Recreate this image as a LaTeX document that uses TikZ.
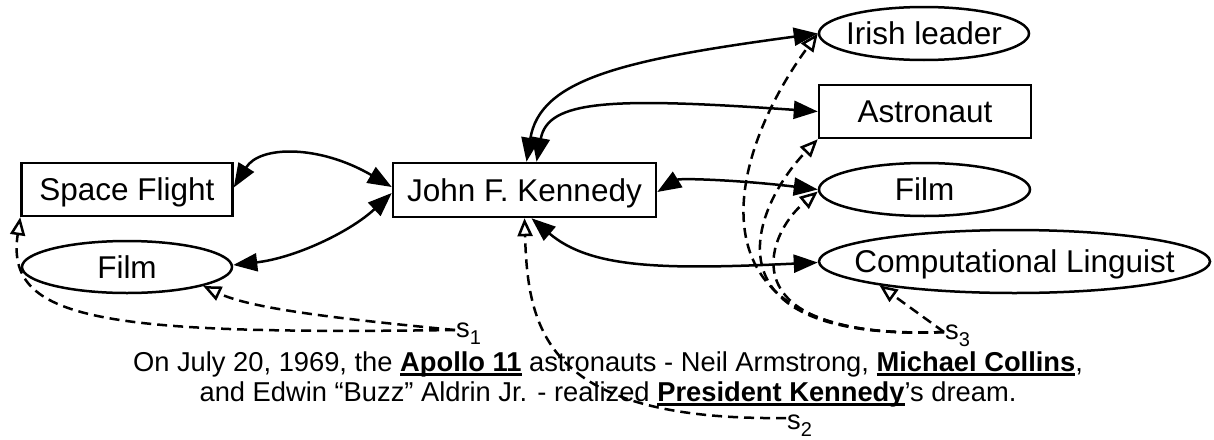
\documentclass[tikz,border=0pt]{standalone}
\usepackage{fontspec}
\setmainfont{Liberation Sans}
\usetikzlibrary{arrows.meta,shapes.geometric}
\newcommand\nodefont{\fontsize{31.5}{36}\selectfont}
\newcommand\txtfont{\fontsize{27.3}{31.5}\selectfont}
\newcommand\myul[1]{\setbox0\hbox{\bfseries #1}\rlap{\rule[-4.5pt]{\wd0}{3pt}}\box0\relax}
\newcommand\mysub[1]{\raisebox{-7pt}{\fontsize{20}{20}\selectfont #1}}
\tikzset{
  boxn/.style={draw, line width=2.5pt, rectangle, inner sep=0pt, font=\nodefont, text height=22.6pt, text depth=0pt},
  elln/.style={draw, line width=2.5pt, ellipse, inner ysep=0pt, inner xsep=-25pt, font=\nodefont, text height=22.6pt, text depth=0pt},
  txt/.style={font=\txtfont, inner sep=0pt},
  slab/.style={font=\txtfont, inner sep=1pt, text height=14pt, text depth=0pt},
  biarrow/.style={line width=2.5pt, {Triangle[length=24pt,width=18pt]}-{Triangle[length=24pt,width=18pt]}},
  ann/.style={line width=2.5pt, dash pattern=on 10pt off 6pt, -{Triangle[open,length=18pt,width=15pt]}}
}
\begin{document}
\begin{tikzpicture}[x=1pt,y=-1pt]
\useasboundingbox (0,0) rectangle (1214,439);
% nodes
\node[boxn, minimum width=211pt, minimum height=53pt] (sf) at (127,189.5) {Space Flight};
\node[elln, minimum width=210pt, minimum height=52pt] (filml) at (127,267) {Film};
\node[boxn, minimum width=263pt, minimum height=54pt] (jfk) at (524.5,190) {John F. Kennedy};
\node[elln, minimum width=210pt, minimum height=53pt] (irish) at (924,33.5) {Irish leader};
\node[boxn, minimum width=212pt, minimum height=53pt] (astro) at (925,111.5) {Astronaut\hspace{31pt}};
\node[elln, minimum width=211pt, minimum height=53pt] (filmr) at (924.5,189.5) {Film};
\node[elln, minimum width=391pt, minimum height=63pt] (cl) at (1014.5,261.5) {Computational Linguist};
% sentence
\node[txt, anchor=base] (line1) at (608,371) {On July 20, 1969, the \myul{Apollo 11} astronauts - Neil Armstrong, \myul{Michael Collins},};
\node[txt, anchor=base] (line2) at (608,401.5) {and Edwin “Buzz” Aldrin Jr. - realized \myul{President Kennedy}’s dream.};
% s labels
\node[slab, anchor=base west] (s1) at (455,337) {s\mysub{1}};
\node[slab, anchor=base west] (s2) at (786,429) {s\mysub{2}};
\node[slab, anchor=base west] (s3) at (944,339) {s\mysub{3}};
% solid relations
\draw[biarrow] ([yshift=2pt]sf.east) .. controls (260,145) and (320,145) .. ([yshift=3pt]jfk.west);
\draw[biarrow] ([yshift=2pt]filml.east) .. controls (295,258) and (350,232) .. ([yshift=-3pt]jfk.west);
\draw[biarrow] ([xshift=2pt]jfk.north) .. controls (540,80) and (620,60) .. (irish.west);
\draw[biarrow] ([xshift=12pt]jfk.north) .. controls (548,100) and (610,97) .. (astro.west);
\draw[biarrow] ([yshift=-2pt]jfk.east) .. controls (680,178) and (740,180) .. (filmr.west);
\draw[biarrow] ([xshift=7pt]jfk.south) .. controls (590,268) and (660,270) .. ([yshift=-1pt]cl.west);
% dashed annotations
\draw[ann] (s1.west) .. controls (100,335) and (5,320) .. (sf.south west);
\draw[ann] (s1.west) .. controls (330,318) and (250,308) .. (filml.-14);
\draw[ann] ([yshift=4pt]s2.west) .. controls (545,421) and (528,330) .. (jfk.south);
\draw[ann] (s3.west) .. controls (680,345) and (725,160) .. (irish.west);
\draw[ann] (s3.west) .. controls (700,342) and (750,210) .. (astro.south west);
\draw[ann] (s3.west) .. controls (725,340) and (765,235) .. ([yshift=-2pt]filmr.west);
\draw[ann] (s3.west) -- (cl.190);
\end{tikzpicture}
\end{document}
